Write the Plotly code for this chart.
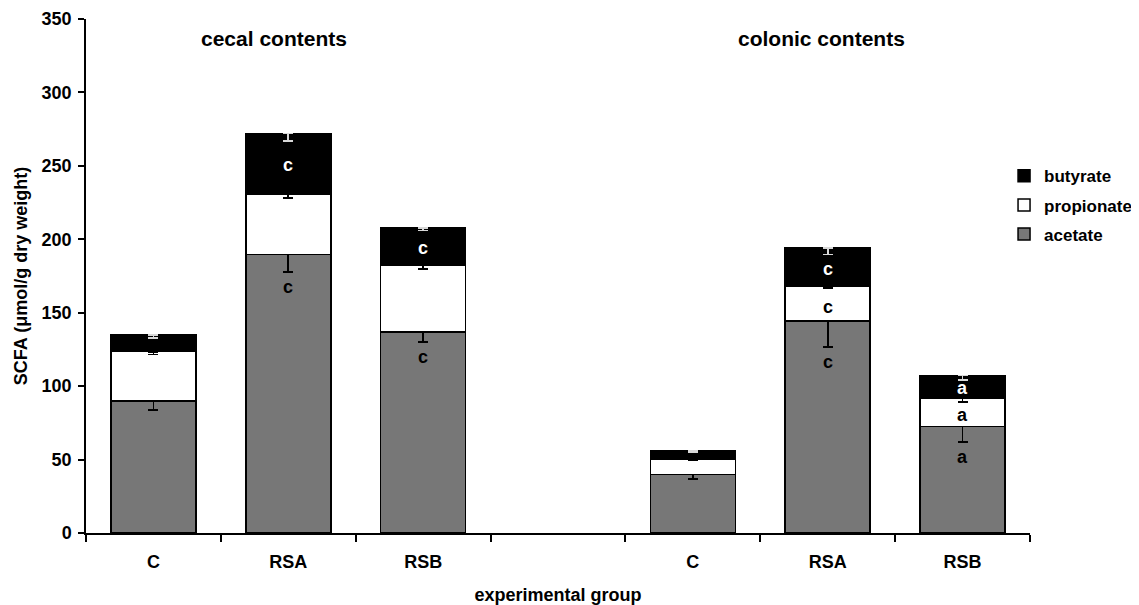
import plotly.graph_objects as go

# ---- data ----
groups = ["C", "RSA", "RSB"]
sections = ["cecal contents", "colonic contents"]

# cecal
cecal_acetate = [90, 189.7, 137]
cecal_acetate_err = [6.5, 12, 7]
cecal_propionate = [33.5, 41.3, 45.3]
cecal_propionate_err = [2, 3, 2.6]
cecal_butyrate = [11.5, 41, 25.3]
cecal_butyrate_err = [2, 5, 1.6]

# colonic
colonic_acetate = [40, 144.2, 72.5]
colonic_acetate_err = [3, 17.6, 10.8]
colonic_propionate = [10.4, 23.7, 19.5]
colonic_propionate_err = [1, 1.3, 3]
colonic_butyrate = [5.8, 26, 15.2]
colonic_butyrate_err = [1.3, 4.2, 3]

# significance letters (per group)
cecal_letters_acetate = ["", "c", "c"]
cecal_letters_propionate = ["", "", ""]
cecal_letters_butyrate = ["", "c", "c"]
colonic_letters_acetate = ["", "c", "a"]
colonic_letters_propionate = ["", "c", "a"]
colonic_letters_butyrate = ["", "c", "a"]

y_ticks = [0, 50, 100, 150, 200, 250, 300, 350]

# ---- build ----
cat_ids = [f"cecal {g}" for g in groups] + ["gap"] + [f"colonic {g}" for g in groups]
cat_text = groups + [""] + groups

def both(a, b):
    return list(a) + [None] + list(b)

xs = cat_ids
acetate = both(cecal_acetate, colonic_acetate)
acetate_err = both(cecal_acetate_err, colonic_acetate_err)
propionate = both(cecal_propionate, colonic_propionate)
propionate_err = both(cecal_propionate_err, colonic_propionate_err)
butyrate = both(cecal_butyrate, colonic_butyrate)
butyrate_err = both(cecal_butyrate_err, colonic_butyrate_err)

zero = [0 if v is not None else None for v in acetate]

font_family = "Liberation Sans, Arial, sans-serif"

fig = go.Figure()

def add(name, vals, errs, color, ecolor, rank):
    fig.add_trace(go.Bar(
        x=xs, y=vals, name=name, legendgroup=name, legendrank=rank,
        marker=dict(color=color, line=dict(color="black", width=1.5)),
        error_y=dict(type="data", symmetric=False, array=zero, arrayminus=errs,
                     color=ecolor, thickness=1.8, width=5),
    ))

add("acetate", acetate, acetate_err, "#777777", "black", 3)
add("propionate", propionate, propionate_err, "white", "black", 2)
add("butyrate", butyrate, butyrate_err, "black", "#d8d8d8", 1)

# letters
annots = []
def letters_for(prefix, ac, pr, bu, la, lp, lb, ea):
    for i, g in enumerate(groups):
        xid = f"{prefix} {g}"
        if la[i]:
            annots.append(dict(x=xid, y=ac[i] - ea[i] - 10, text=la[i],
                               font=dict(color="black")))
        if lp[i]:
            annots.append(dict(x=xid, y=ac[i] + pr[i] / 2 - 2, text=lp[i],
                               font=dict(color="black")))
        if lb[i]:
            annots.append(dict(x=xid, y=ac[i] + pr[i] + bu[i] / 2 - 1, text=lb[i],
                               font=dict(color="white")))

letters_for("cecal", cecal_acetate, cecal_propionate, cecal_butyrate,
            cecal_letters_acetate, cecal_letters_propionate, cecal_letters_butyrate,
            cecal_acetate_err)
letters_for("colonic", colonic_acetate, colonic_propionate, colonic_butyrate,
            colonic_letters_acetate, colonic_letters_propionate, colonic_letters_butyrate,
            colonic_acetate_err)

for a in annots:
    a.update(xref="x", yref="y", showarrow=False)
    a["font"].update(size=18, family=font_family, weight="bold")
    fig.add_annotation(**a)

# section titles
for sx, txt in zip([0.199, 0.779], sections):
    fig.add_annotation(x=sx, y=0.962, xref="paper", yref="paper", text=txt,
                       showarrow=False, xanchor="center", yanchor="middle",
                       font=dict(size=21, family=font_family, color="black", weight="bold"))

# the page body has an 8px margin, so the figure is sized to fill the rest
fig.update_layout(
    width=1131, height=597,
    template="none",
    barmode="stack", bargap=0.37,
    plot_bgcolor="white", paper_bgcolor="white",
    margin=dict(l=78, r=109, t=11, b=72, autoexpand=False),
    font=dict(family=font_family, size=18, color="black", weight="bold"),
    showlegend=True,
    legend=dict(traceorder="grouped", x=0.9725, y=0.729, xanchor="left", yanchor="top",
                font=dict(size=17, family=font_family, weight="bold", color="black"),
                bgcolor="rgba(0,0,0,0)", itemwidth=30, tracegroupgap=4),
    xaxis=dict(
        type="category", categoryorder="array", categoryarray=cat_ids,
        tickmode="array", tickvals=cat_ids, ticktext=cat_text,
        tickson="boundaries", ticks="outside", ticklen=7, tickwidth=1.5, tickcolor="black",
        showline=True, linecolor="black", linewidth=1.5,
        range=[-0.5, 6.5], ticklabelstandoff=12, automargin=False,
        title=dict(text="experimental group", standoff=17,
                   font=dict(size=18, family=font_family, weight="bold", color="black")),
        tickfont=dict(size=18, family=font_family, weight="bold", color="black"),
        showgrid=False, zeroline=False,
    ),
    yaxis=dict(
        range=[0, 350], tickmode="array", tickvals=y_ticks, ticks="outside", ticklen=6, tickwidth=1.5,
        tickcolor="black", showline=True, linecolor="black", linewidth=1.5,
        showgrid=False, zeroline=False, automargin=False, ticklabelstandoff=3,
        tickfont=dict(size=18, family=font_family, weight="bold", color="black"),
        title=dict(text="SCFA (μmol/g dry weight)", standoff=9,
                   font=dict(size=18, family=font_family, weight="bold", color="black")),
    ),
)

fig.write_html("out.html")
